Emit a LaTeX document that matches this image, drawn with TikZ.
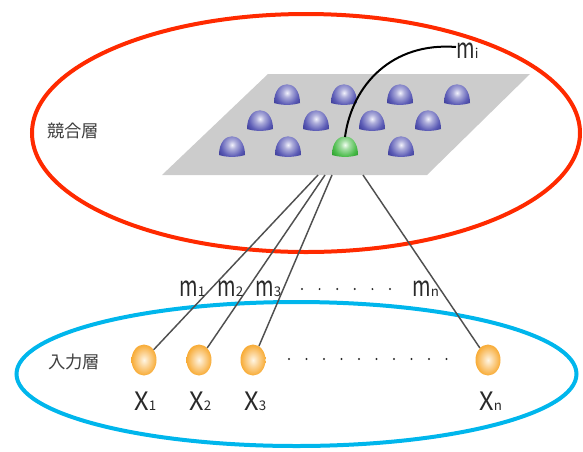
\documentclass[tikz,border=0pt]{standalone}
\usepackage{graphicx}
\usepackage{fontspec}
\setmainfont{Noto Sans CJK JP}
\newfontfamily\cjk{Noto Sans CJK JP}
\usetikzlibrary{shapes.geometric}
\definecolor{redring}{HTML}{FF2A00}
\definecolor{bluering}{HTML}{00B6EC}
\definecolor{plane}{HTML}{CCCCCC}
\definecolor{wire}{HTML}{505050}
\definecolor{txt}{HTML}{2A2A2A}
\definecolor{bmid}{HTML}{5C5CB6}
\definecolor{bdark}{HTML}{2A2A86}
\definecolor{bhi}{HTML}{F2F2FC}
\definecolor{gmid}{HTML}{4CBC4C}
\definecolor{gdark}{HTML}{188C18}
\definecolor{ghi}{HTML}{F2FFF2}
\definecolor{omid}{HTML}{F8AE3C}
\definecolor{odark}{HTML}{F29400}
\definecolor{ohi}{HTML}{FFF6E4}
\pgfdeclareradialshading{domeblue}{\pgfpoint{0bp}{-2bp}}{color(0bp)=(bhi); color(8bp)=(bmid!50!white); color(22bp)=(bmid); color(38bp)=(bdark); color(50bp)=(bdark)}
\pgfdeclareradialshading{domegreen}{\pgfpoint{0bp}{-2bp}}{color(0bp)=(ghi); color(8bp)=(gmid!50!white); color(22bp)=(gmid); color(38bp)=(gdark); color(50bp)=(gdark)}
\pgfdeclareradialshading{orangeball}{\pgfpoint{0bp}{0bp}}{color(0bp)=(ohi); color(10bp)=(omid!50!white); color(24bp)=(omid); color(40bp)=(odark); color(50bp)=(odark)}
\newcommand\dome[3]{\shade[shading=#3] (#1-13,#2) .. controls (#1-13,#2-25) and (#1+13,#2-25) .. (#1+13,#2) .. controls (#1+5,#2+2.5) and (#1-5,#2+2.5) .. cycle;}
\newcommand\mglyph{\scalebox{1}[1.4]{m}}
\newcommand\subs[1]{{\fontsize{10}{10}\selectfont #1}}
\tikzset{
  ring/.style={line width=3pt},
  wireline/.style={draw=wire, line width=1.1pt},
  inball/.style={ellipse, shading=orangeball, minimum width=18.75pt, minimum height=23.25pt, inner sep=0pt},
  mlabel/.style={anchor=base west, inner sep=0pt, text=txt, font=\fontsize{15}{15}\selectfont},
  xlabel/.style={anchor=base west, inner sep=0pt, text=txt, font=\fontsize{19}{19}\selectfont},
  jlabel/.style={anchor=west, inner sep=0pt, text=txt!90!white, font=\cjk\fontsize{13}{13}\selectfont},
  dotmark/.style={fill=txt, draw=none}
}
\begin{document}
\begin{tikzpicture}[x=0.75pt,y=-0.75pt]
\useasboundingbox (0,0) rectangle (583,451);
% layer rings
\draw[ring, redring] (306,133) ellipse [x radius=274, y radius=119];
\draw[ring, bluering] (296.5,374) ellipse [x radius=280, y radius=72];
% competitive plane
\fill[plane] (268,74) -- (530,74) -- (427,175) -- (162,175) -- cycle;
\coordinate (p1) at (318,175);
\coordinate (p2) at (325,175);
\coordinate (p3) at (332,175);
\coordinate (pn) at (363,175);
% input units
\node[inball] (x1) at (144,360) {};
\node[inball] (x2) at (199,360) {};
\node[inball] (x3) at (253,360) {};
\node[inball] (xn) at (488,360) {};
% connections
\draw[wireline] (p1) -- (x1);
\draw[wireline] (p2) -- (x2);
\draw[wireline] (p3) -- (x3);
\draw[wireline] (pn) -- (xn);
% domes
\foreach \x in {287,344,400,457} {\dome{\x}{103}{domeblue}}
\foreach \x in {260,316,372,428} {\dome{\x}{129}{domeblue}}
\foreach \x in {232,288,401} {\dome{\x}{155}{domeblue}}
\dome{345}{155}{domegreen}
\coordinate (g) at (345,137);
% mi label and curve
\node[mlabel] (mi) at (456,58) {\mglyph\subs{i}};
\draw[line width=1.5pt, black] (g) .. controls (352,85) and (392,42) .. (mi.west |- 0,47);
% weight labels
\node[mlabel] (m1) at (179,296) {\mglyph\subs{1}};
\node[mlabel] (m2) at (217,296) {\mglyph\subs{2}};
\node[mlabel] (m3) at (255,296) {\mglyph\subs{3}};
\node[mlabel] (mn) at (412,296) {\mglyph\subs{n}};
\foreach \i in {0,...,5} {\fill[dotmark] (302+17.6*\i,289) circle [radius=1.1];}
% input labels
\node[xlabel] (lx1) at (134,410) {X\subs{1}};
\node[xlabel] (lx2) at (189,410) {X\subs{2}};
\node[xlabel] (lx3) at (244,410) {X\subs{3}};
\node[xlabel] (lxn) at (479,410) {X\subs{n}};
\foreach \i in {0,...,9} {\fill[dotmark] (289+17.5*\i,359) circle [radius=1.1];}
% layer names
\node[jlabel] (comp) at (47,131) {競合層};
\node[jlabel] (inp) at (48,362) {入力層};
\end{tikzpicture}
\end{document}
